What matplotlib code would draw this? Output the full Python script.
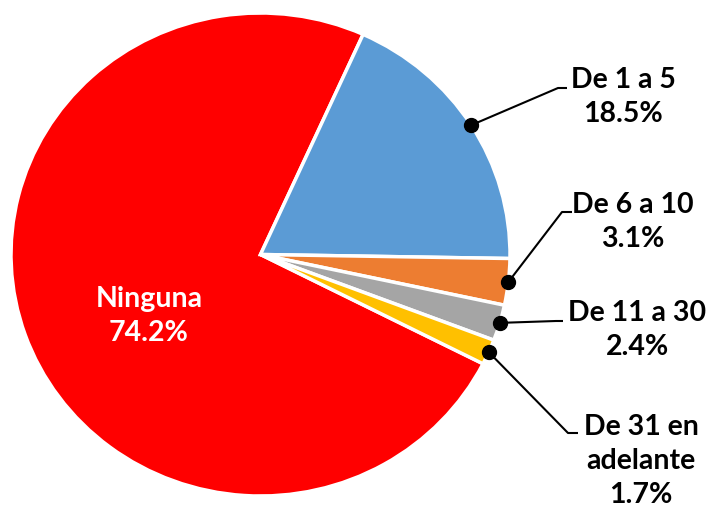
import numpy as np
import matplotlib
matplotlib.use("Agg")
import matplotlib.pyplot as plt

plt.rcParams['font.family'] = ['Lato', 'DejaVu Sans']

# Data
categories = ["Ninguna", "De 1 a 5", "De 6 a 10", "De 11 a 30", "De 31 en\nadelante"]
shares = [74.2, 18.5, 3.1, 2.4, 1.7]
colors = ["#FF0000", "#5B9BD5", "#ED7D31", "#A5A5A5", "#FFC000"]

# Pie geometry in pixels (the source image is slightly stretched)
cx, cy, rx, ry = 260.5, 254.5, 249.5, 241.5
W, H = 706, 508


def px(x, y):
    return (x - cx) / rx, (cy - y) / ry


fig = plt.figure(figsize=(W / 100, H / 100), dpi=100)
ax = fig.add_axes([0, 0, 1, 1])
wedges, _ = ax.pie(shares, colors=colors, startangle=-26.9, counterclock=False,
                   radius=1.0, wedgeprops=dict(edgecolor="white", linewidth=2.5))
ax.set_aspect("auto")
ax.set_xlim(px(0, 0)[0], px(W, 0)[0])
ax.set_ylim(px(0, H)[1], px(0, 0)[1])
ax.axis("off")

# Label layout: (text center), (elbow), (line end) in pixels
layout = {
    1: ((623, 97), (558, 88), (567, 88)),
    2: ((633, 222), (562, 212), (572, 212)),
    3: ((637, 330), (556, 321), (563, 321)),
    4: ((641, 461), (568, 433), (578, 433)),
}

fs = 20.5
ls = 1.38
tx, ty = px(149, 316)
ax.text(tx, ty, "%s\n%.1f%%" % (categories[0], shares[0]), color="white",
        fontsize=fs, fontweight="bold", ha="center", va="center", linespacing=ls)

for i, (tpos, elbow, end) in layout.items():
    w = wedges[i]
    mid = np.deg2rad((w.theta1 + w.theta2) / 2.0)
    dot = (np.cos(mid), np.sin(mid))
    ex, ey = px(*elbow)
    nx, ny = px(*end)
    ax.plot([dot[0], ex, nx], [dot[1], ey, ny], color="black", lw=1.5,
            solid_capstyle="butt", zorder=5)
    ax.plot(dot[0], dot[1], "o", color="black", markersize=10, zorder=6)
    x, y = px(*tpos)
    ax.text(x, y, "%s\n%.1f%%" % (categories[i], shares[i]), color="black",
            fontsize=fs, fontweight="bold", ha="center", va="center", linespacing=ls)

fig.savefig("out.png", dpi=100)
